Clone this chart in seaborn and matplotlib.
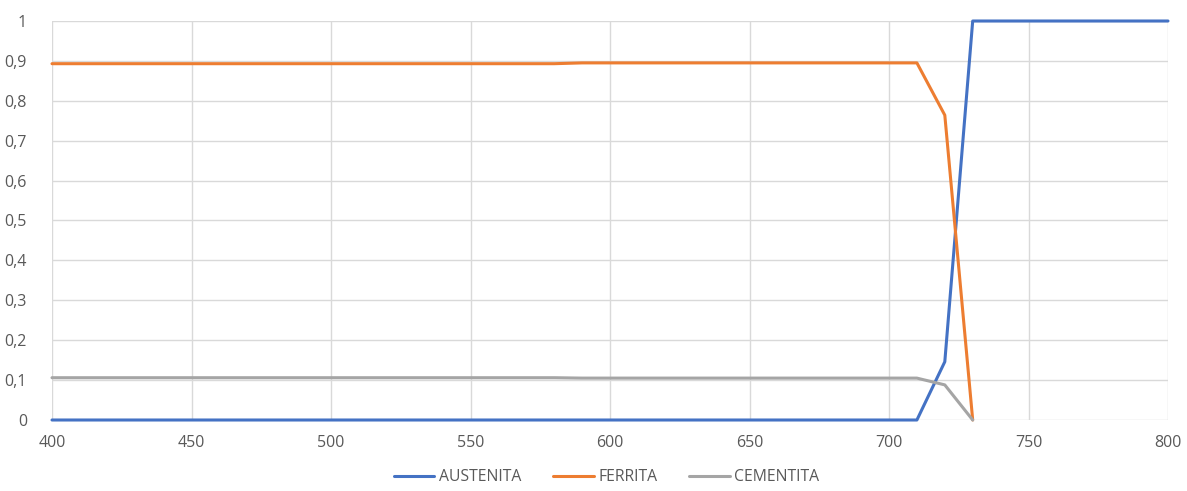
import matplotlib
matplotlib.use("Agg")
import matplotlib.pyplot as plt
from matplotlib.ticker import FuncFormatter, MultipleLocator
import seaborn as sns
import pandas as pd
import numpy as np

# Temperature (°C) and phase fractions
temperatura = list(range(400, 801, 10))

austenita = [0.0] * 32 + [0.146] + [1.0] * 8
ferrita = [0.893] * 19 + [0.895] * 13 + [0.764, 0.0] + [np.nan] * 7
cementita = [0.106] * 19 + [0.105] * 13 + [0.088, 0.0] + [np.nan] * 7

series = {"AUSTENITA": austenita, "FERRITA": ferrita, "CEMENTITA": cementita}
colores = ["#4472C4", "#ED7D31", "#A5A5A5"]

df = pd.DataFrame(
    [(t, nombre, v) for nombre, vals in series.items() for t, v in zip(temperatura, vals)],
    columns=["T", "fase", "fraccion"],
).dropna()

sns.set_theme(style="white")
plt.rcParams["font.family"] = ["Open Sans", "DejaVu Sans"]

fig = plt.figure(figsize=(11.87, 4.91), dpi=100)
ax = fig.add_axes([52 / 1187, 71 / 491, 1116 / 1187, 399 / 491])

sns.lineplot(data=df, x="T", y="fraccion", hue="fase", palette=colores,
             hue_order=list(series.keys()),
             linewidth=2.2, ax=ax, legend=True, clip_on=False, zorder=3)


def fmt(v, _):
    if abs(v - round(v)) < 1e-9:
        return f"{int(round(v))}"
    return f"{v:.1f}".replace(".", ",")


ax.set_xlim(400, 800)
ax.set_ylim(0, 1)
ax.xaxis.set_major_locator(MultipleLocator(50))
ax.yaxis.set_major_locator(MultipleLocator(0.1))
ax.yaxis.set_major_formatter(FuncFormatter(fmt))
ax.grid(True, color="#D9D9D9", linewidth=1.0)
ax.set_axisbelow(True)
for s in ax.spines.values():
    s.set_visible(False)
ax.tick_params(axis="both", length=0, labelsize=11.5, colors="#595959")
ax.tick_params(axis="y", pad=18)
ax.tick_params(axis="x", pad=11)
ax.set_xlabel("")
ax.set_ylabel("")

leg = ax.legend(loc="upper center", bbox_to_anchor=(0.497, -0.108), ncol=3,
                frameon=False, fontsize=11.3, handlelength=2.6, columnspacing=2.0,
                handletextpad=0.3, borderaxespad=0.2, borderpad=0.2)
for t in leg.get_texts():
    t.set_color("#595959")

fig.savefig("out.png", dpi=100)
